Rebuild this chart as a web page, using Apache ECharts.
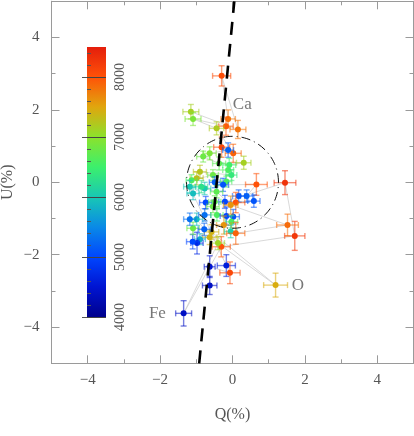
<!DOCTYPE html>
<html><head><meta charset="utf-8">
<script src="https://cdn.jsdelivr.net/npm/echarts@6/dist/echarts.min.js"></script>
<style>html,body{margin:0;padding:0;background:#fff}#c{width:414px;height:436px}</style>
</head><body><div id="c"></div>
<script>
// Observations in track order
const Q  = [-1.15,0.15,-0.30,-0.12,-0.18,-1.09,-0.44,0.02,-0.30,-0.12,-0.63,-0.81,-0.37,0.31,-0.09,-0.12,-0.03,-0.90,-0.99,-1.13,-0.54,-0.49,-0.17,-0.26,0.66,0.39,0.17,0.09,0.59,-0.21,1.45,1.72,-0.31,-1.35,-0.40,-0.58,1.19,-0.63,-0.90,-0.98,-1.10,-1.09,-0.78,-0.99,-1.18,-0.77,-0.74,-0.54,-0.49,-0.43,-0.17,0.02,-0.03,-0.24,-0.05,0.09,1.52,-0.05,-0.44,-0.77,-0.86,-1.09,-1.18,-0.17,-0.07,-0.63,-0.63];
const U  = [1.95,1.46,2.94,1.75,1.55,1.75,1.49,0.80,0.97,0.89,0.80,0.71,0.52,0.54,0.48,0.34,0.20,0.29,0.11,0.06,0.20,0.00,0.02,-0.07,-0.06,-0.38,-0.38,-0.56,-0.52,-0.54,-0.01,-1.48,-1.78,-3.62,-1.68,-1.37,-2.84,-1.52,-1.57,-1.68,-1.64,-1.27,-1.30,-1.02,-1.02,-0.90,-0.56,-0.67,-0.54,-0.90,-0.93,-0.95,-1.09,-1.18,-1.36,-1.41,-1.18,-0.63,-0.26,-0.17,-0.12,-0.31,-0.12,-2.30,-2.50,-2.33,-2.85];
const T  = [7150,7800,8050,7800,7950,6900,7200,7900,8100,5200,6900,6800,6700,7150,6500,6600,6400,7250,7300,6600,6800,5200,6600,5100,8000,5200,5100,8000,5100,5000,8300,8250,8000,4400,7100,7400,7450,7400,5800,4700,5000,6800,5200,5900,5300,5300,5000,6800,6700,6600,5000,5100,6600,7600,6100,7900,7850,7600,6700,6000,6300,5900,6000,4600,8100,4500,4400];
const eQ = [0.22,0.22,0.25,0.20,0.20,0.22,0.20,0.22,0.22,0.15,0.18,0.18,0.18,0.20,0.18,0.15,0.15,0.18,0.18,0.15,0.15,0.15,0.15,0.15,0.30,0.17,0.17,0.25,0.17,0.17,0.30,0.28,0.25,0.22,0.18,0.20,0.33,0.20,0.15,0.17,0.17,0.17,0.17,0.17,0.17,0.17,0.17,0.17,0.17,0.17,0.17,0.17,0.17,0.20,0.17,0.25,0.30,0.20,0.17,0.17,0.17,0.17,0.17,0.25,0.28,0.15,0.20];
const eU = [0.20,0.25,0.28,0.25,0.25,0.18,0.18,0.25,0.28,0.20,0.18,0.15,0.18,0.18,0.18,0.15,0.15,0.18,0.18,0.15,0.15,0.15,0.15,0.18,0.30,0.17,0.17,0.28,0.17,0.18,0.33,0.40,0.28,0.35,0.18,0.20,0.33,0.20,0.15,0.30,0.20,0.17,0.17,0.17,0.17,0.17,0.17,0.17,0.17,0.17,0.25,0.20,0.17,0.25,0.17,0.30,0.30,0.25,0.17,0.17,0.17,0.17,0.17,0.30,0.30,0.30,0.25];

const labelNames = ['Ca','O','Fe'];
const labelQ = [0.01, 1.64, -2.31];
const labelU = [2.16, -2.84, -3.62];

const majorTicks = [-4,-2,0,2,4];
const minorTicks = [-5,-3,-1,1,3,5];
const cbMin = 4000, cbMax = 8500;
const cbMajor = [4000,5000,6000,7000,8000];
const cbMinor = [4200,4400,4600,4800,5200,5400,5600,5800,6200,6400,6600,6800,7200,7400,7600,7800,8200,8400];
const cbColors = ['#00008c','#0014d2','#0046ff','#0a8ae6','#18c8b4','#3cf06c','#8ce22c','#e0a60e','#ff5208','#e41e0c'];

const dashQ = [-0.92, 0.05];
const dashU = [-5, 5];
const circleR = 1.27;

const serif = 'Liberation Serif';
const fmt = v => (v < 0 ? '\u2212' : '') + Math.abs(v);

const pts = Q.map((q,i)=>[q,U[i],T[i],eQ[i],eU[i]]);
const track = Q.map((q,i)=>[q,U[i]]);
const circ = [];
for (let k=0;k<=120;k++){const a=k/120*2*Math.PI;circ.push([circleR*Math.cos(a),circleR*Math.sin(a)]);}

const axisCol = '#9a9a9a';
function mainX(pos, ticks, len, extra){
  return Object.assign({gridIndex:0,type:'value',min:-5,max:5,position:pos,
    axisLine:{show:true,onZero:false,lineStyle:{color:axisCol}},
    splitLine:{show:false},
    axisTick:{show:true,inside:true,length:len,customValues:ticks,lineStyle:{color:axisCol}},
    axisLabel:{show:false}}, extra||{});
}
const chart = echarts.init(document.getElementById('c'));
chart.setOption({
  animation:false,
  backgroundColor:'#fff',
  grid:[{left:51.5,top:1.3,width:362,height:362,containLabel:false,outerBoundsMode:'none'},
        {left:87,top:47,width:19,height:270,containLabel:false,outerBoundsMode:'none'}],
  visualMap:{type:'continuous',show:false,min:cbMin,max:cbMax,dimension:2,seriesIndex:[1],inRange:{color:cbColors}},
  xAxis:[
    mainX('bottom',majorTicks,8,{axisLabel:{show:true,customValues:majorTicks,formatter:fmt,color:'#555',fontFamily:serif,fontSize:15,margin:9},
      name:'Q(%)',nameLocation:'middle',nameGap:43,nameMoveOverlap:false,nameTextStyle:{color:'#555',fontFamily:serif,fontSize:16}}),
    mainX('bottom',minorTicks,4),
    mainX('top',majorTicks,8),
    mainX('top',minorTicks,4),
    {gridIndex:1,type:'value',min:0,max:1,show:false}
  ],
  yAxis:[
    Object.assign(mainX('left',majorTicks,8),{axisLabel:{show:true,customValues:majorTicks,formatter:fmt,color:'#555',fontFamily:serif,fontSize:15,margin:12},
      name:'U(%)',nameLocation:'middle',nameGap:36,nameMoveOverlap:false,nameTextStyle:{color:'#555',fontFamily:serif,fontSize:16}}),
    mainX('left',minorTicks,4),
    mainX('right',majorTicks,8),
    mainX('right',minorTicks,4),
    {gridIndex:1,type:'value',min:cbMin,max:cbMax,position:'left',axisLine:{show:false},splitLine:{show:false},axisLabel:{show:false},
      axisTick:{show:true,inside:false,length:5,customValues:cbMajor,lineStyle:{color:'#555'}}},
    {gridIndex:1,type:'value',min:cbMin,max:cbMax,position:'left',z:10,axisLine:{show:false},splitLine:{show:false},axisLabel:{show:false},
      axisTick:{show:true,inside:true,length:19,customValues:cbMajor,lineStyle:{color:'#444',width:1}}},
    {gridIndex:1,type:'value',min:cbMin,max:cbMax,position:'left',z:10,axisLine:{show:false},splitLine:{show:false},axisLabel:{show:false},
      axisTick:{show:true,inside:true,length:4,customValues:cbMinor,lineStyle:{color:'#555',width:1}}},
    {gridIndex:1,type:'value',min:cbMin,max:cbMax,position:'right',axisLine:{show:false},splitLine:{show:false},axisTick:{show:false},
      axisLabel:{show:true,customValues:cbMajor,rotate:90,margin:7,formatter:v=>String(v),color:'#555',fontFamily:serif,fontSize:14}}
  ],
  series:[
    {type:'line',data:track,symbol:'none',z:1,lineStyle:{color:'#cfcfcf',width:0.8},silent:true},
    {type:'custom',data:pts,z:3,encode:{x:0,y:1},dimensions:['Q','U','T','eQ','eU'],
      renderItem:(params,api)=>{
        const q=api.value(0),u=api.value(1),eq=api.value(3),eu=api.value(4);
        const c=api.coord([q,u]),l=api.coord([q-eq,u]),r=api.coord([q+eq,u]),t=api.coord([q,u+eu]),b=api.coord([q,u-eu]);
        const col=api.visual('color');const cp=3;
        const st={stroke:col,lineWidth:1.4,opacity:0.55};
        const ln=(x1,y1,x2,y2)=>({type:'line',shape:{x1,y1,x2,y2},style:st});
        return {type:'group',children:[
          ln(l[0],l[1],r[0],r[1]),ln(t[0],t[1],b[0],b[1]),
          ln(l[0],l[1]-cp,l[0],l[1]+cp),ln(r[0],r[1]-cp,r[0],r[1]+cp),
          ln(t[0]-cp,t[1],t[0]+cp,t[1]),ln(b[0]-cp,b[1],b[0]+cp,b[1]),
          {type:'circle',shape:{cx:c[0],cy:c[1],r:3},style:{fill:col}}
        ]};
      }},
    {type:'line',data:dashQ.map((q,i)=>[q,dashU[i]]),symbol:'none',z:5,lineStyle:{color:'#000',width:2.6,type:[13,9]},silent:true},
    {type:'line',data:circ,symbol:'none',z:5,smooth:false,lineStyle:{color:'#111',width:1,type:[9,4,1,4]},silent:true},
    {type:'scatter',data:labelNames.map((n,i)=>[labelQ[i],labelU[i],n]),symbolSize:0,z:6,
      label:{show:true,position:'right',distance:0,formatter:p=>p.data[2],color:'#555',fontFamily:serif,fontSize:17}},
    {type:'custom',xAxisIndex:4,yAxisIndex:4,data:[[0,cbMin,1,cbMax]],z:2,silent:true,
      renderItem:(params,api)=>{
        const p0=api.coord([0,cbMin]),p1=api.coord([1,cbMax]);
        return {type:'rect',shape:{x:p0[0],y:p1[1],width:p1[0]-p0[0],height:p0[1]-p1[1]},
          style:{fill:new echarts.graphic.LinearGradient(0,1,0,0,cbColors.map((c,i)=>({offset:i/(cbColors.length-1),color:c})))}};
      }}
  ]
});
</script></body></html>
